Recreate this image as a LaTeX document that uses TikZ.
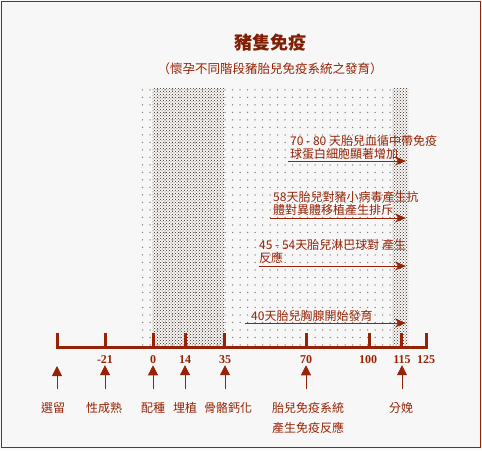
\documentclass[tikz,border=0pt]{standalone}
\usepackage{fontspec}
\setmainfont{Liberation Serif}
\newfontfamily\cjk{Noto Sans CJK TC}
\usepackage{tikz}
\usetikzlibrary{arrows.meta, patterns, patterns.meta, positioning}
\definecolor{pigred}{RGB}{150,35,5}
\definecolor{paper}{RGB}{247,247,247}
\tikzstyle{tick} = [line width=3pt, draw=pigred]
\tikzstyle{daynum} = [font=\fontsize{12}{12}\selectfont\bfseries, text=pigred, inner sep=0pt]
\tikzstyle{event} = [font=\cjk\fontsize{12}{20}\selectfont, text=pigred, inner sep=0pt, align=center, anchor=north]
\tikzstyle{note} = [font=\cjk\fontsize{12}{13}\selectfont, text=pigred, inner sep=0pt, align=left, anchor=south west]
\tikzstyle{uparrow} = [draw=pigred, line width=0.8pt, -{Triangle[length=10pt,width=10pt]}]
\tikzstyle{arrow} = [draw=pigred, line width=1pt, -{Stealth[length=11pt,width=9pt]}]

\begin{document}
\begin{tikzpicture}[x=1pt, y=-1pt]
  \useasboundingbox (0,0) rectangle (482,450);
  \fill[paper] (0,0) rectangle (482,450);
  \draw[pigred, line width=1pt] (1.5,1.5) rectangle (480.5,447.5);

  % dotted stages
  \fill[pattern={Dots[distance=7.5pt,radius=0.75pt]}, pattern color=gray] (138,88) rectangle (392,345);
  \fill[pattern=crosshatch dots, pattern color=black!70!brown] (152,88) rectangle (224,345);
  \fill[pattern=crosshatch dots, pattern color=black!70!brown] (392,88) rectangle (408,345);

  \node (title) [font=\cjk\bfseries\fontsize{18}{18}\selectfont, text=pigred!85!black] at (270,43) {豬隻免疫};
  \node (subtitle) [font=\cjk\fontsize{12.5}{13}\selectfont, text=pigred] at (270,69) {（懷孕不同階段豬胎兒免疫系統之發育）};

  % time axis
  \draw[tick] (57,333) -- (57,347) -- (426,347) -- (426,333);
  \foreach \x in {105,153,185,224,306,369,401}
    \draw[tick] (\x,347) -- (\x,333);

  \node (m21) [daynum] at (105,360) {-21};
  \node (d0) [daynum] at (153,360) {0};
  \node (d14) [daynum] at (185,360) {14};
  \node (d35) [daynum] at (225,360) {35};
  \node (d70) [daynum] at (306,360) {70};
  \node (d100) [daynum] at (368,360) {100};
  \node (d115) [daynum] at (402,360) {115};
  \node (d125) [daynum] at (426,360) {125};

  \node (sel) [event] at (53,402) {選留};
  \node (mature) [event] at (104,402) {性成熟};
  \node (mating) [event] at (153,402) {配種};
  \node (implant) [event] at (185,402) {埋植};
  \node (bone) [event] at (228,402) {骨骼鈣化};
  \node (immune) [event] at (308,402) {胎兒免疫系統\\產生免疫反應};
  \node (birth) [event] at (401,402) {分娩};

  \coordinate (selbase) at (57,389);
  \coordinate (seltip) at (57,366);
  \draw[uparrow] (selbase) -- (seltip);
  \draw[uparrow] ([yshift=13pt]mature.north -| m21) -- ([yshift=-1pt]m21.south);
  \draw[uparrow] ([yshift=13pt]mating.north -| d0) -- ([yshift=-1pt]d0.south);
  \draw[uparrow] ([yshift=13pt]implant.north -| d14) -- ([yshift=-1pt]d14.south);
  \draw[uparrow] ([yshift=13pt]bone.north -| d35) -- ([yshift=-1pt]d35.south);
  \draw[uparrow] ([yshift=13pt]immune.north -| d70) -- ([yshift=-1pt]d70.south);
  \draw[uparrow] ([yshift=13pt]birth.north -| d115) -- ([yshift=-1pt]d115.south);

  % fetal events
  \coordinate (s1) at (288,161); \coordinate (e1) at (406,161);
  \coordinate (s2) at (270,218); \coordinate (e2) at (406,218);
  \coordinate (s3) at (259,266); \coordinate (e3) at (406,266);
  \coordinate (s4) at (245,323); \coordinate (e4) at (406,323);
  \draw[arrow] (s1) -- (e1);
  \draw[arrow] (s2) -- (e2);
  \draw[arrow] (s3) -- (e3);
  \draw[arrow] (s4) -- (e4);
  \node (note1) [note] at (290,160) {70 - 80 天胎兒血循中帶免疫\\球蛋白細胞顯著增加};
  \node (note2) [note] at (273,216) {58天胎兒對豬小病毒產生抗\\體對異體移植產生排斥};
  \node (note3) [note] at (259,264) {45 - 54天胎兒淋巴球對 產生\\反應};
  \node (note4) [note] at (251,322) {40天胎兒胸腺開始發育};
\end{tikzpicture}
\end{document}
